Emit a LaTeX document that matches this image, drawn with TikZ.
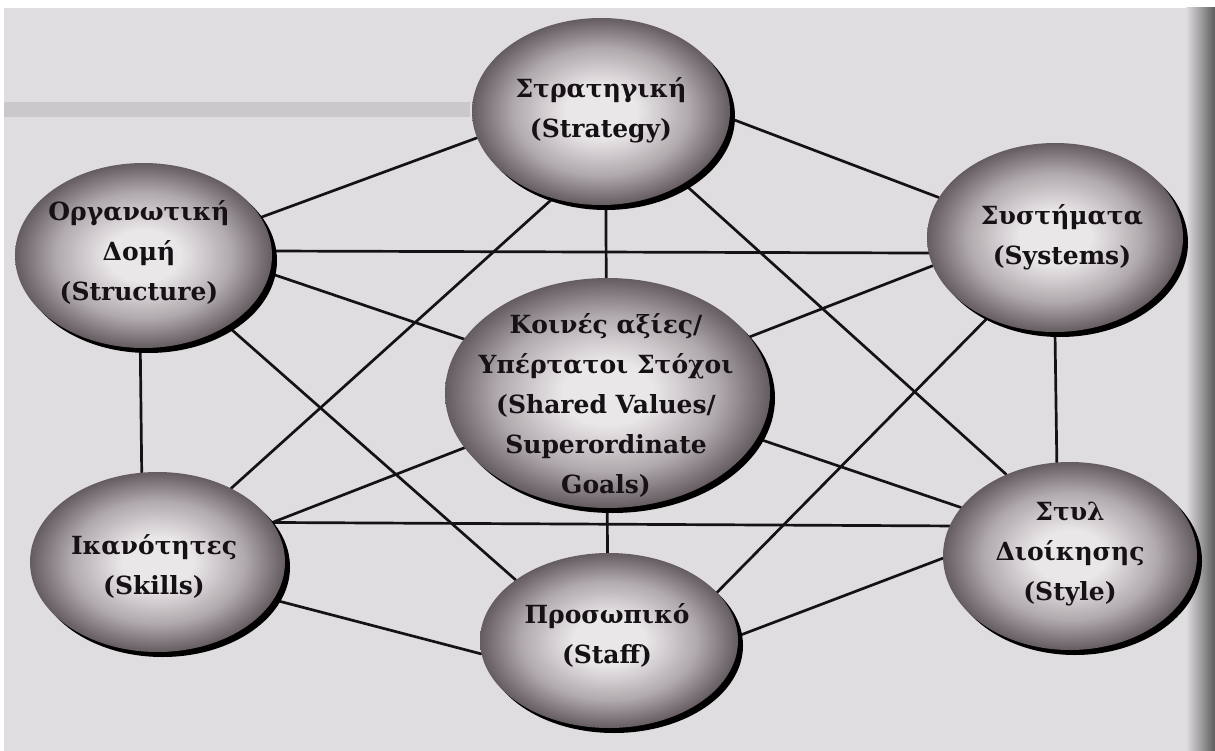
\documentclass[tikz,border=0pt]{standalone}
\usepackage{fontspec}
\setmainfont{DejaVu Serif}
\usetikzlibrary{shapes.geometric,shadows}

\definecolor{paper}{RGB}{224,221,224}
\definecolor{ink}{RGB}{22,17,20}
\definecolor{orbhi}{RGB}{234,231,233}
\definecolor{orbmid}{RGB}{176,169,173}
\definecolor{orblo}{RGB}{100,92,97}

% sphere-like fill: bright middle, darker rim
\pgfdeclareradialshading{orb}{\pgfpoint{0bp}{0bp}}{%
  color(0bp)=(orbhi); color(7bp)=(orbhi); color(17bp)=(orbmid);
  color(25bp)=(orblo); color(50bp)=(orblo)}

\pgfdeclarelayer{paperlayer}
\pgfdeclarelayer{wires}
\pgfsetlayers{paperlayer,wires,main}

\tikzset{
  orb/.style={ellipse, shading=orb, draw=none, inner sep=0pt,
    drop shadow={shadow xshift=5pt, shadow yshift=-5pt, fill=black, opacity=1}},
  txt/.style={font=\fontsize{25}{40}\selectfont\bfseries, align=center, text=ink, inner sep=0pt},
  link/.style={line width=2.7pt, draw=ink, line cap=round}
}

\begin{document}
\begin{tikzpicture}[x=1pt, y=-1pt]
\useasboundingbox (0,0) rectangle (1215,751);

\begin{pgfonlayer}{paperlayer}
  \fill[paper] (-5,-5) rectangle (1220,756);
  \fill[paper!82!black, opacity=0.5] (4,102) rectangle (470,117);
  \fill[white] (-5,-5) rectangle (1220,8);
  \fill[white] (-5,-5) rectangle (4,756);
  \shade[left color=paper, right color=black!72] (1186,8) rectangle (1220,756);
\end{pgfonlayer}

% the seven elements
\node[orb, minimum width=258pt, minimum height=187pt] (str)  at (601,111.5) {};
\node[orb, minimum width=256pt, minimum height=189pt] (sys)  at (1055,237.5) {};
\node[orb, minimum width=257pt, minimum height=185pt] (stru) at (143.5,255.5) {};
\node[orb, minimum width=325pt, minimum height=230pt] (cen)  at (607.5,393) {};
\node[orb, minimum width=255pt, minimum height=180pt] (skl)  at (157.5,562) {};
\node[orb, minimum width=254pt, minimum height=188pt] (sty)  at (1070,556) {};
\node[orb, minimum width=258pt, minimum height=175pt] (stf)  at (609,640.5) {};

% labels
\node[txt] (str-t)  at (601,110)   {Στρατηγική\\(Strategy)};
\node[txt] (sys-t)  at (1062,237)  {Συστήματα\\(Systems)};
\node[txt] (stru-t) at (139,252)   {Οργανωτική\\Δομή\\(Structure)};
\node[txt] (cen-t)  at (606,405)   {Κοινές αξίες/\\Υπέρτατοι Στόχοι\\(Shared Values/\\Superordinate\\Goals)};
\node[txt] (skl-t)  at (154,566)   {Ικανότητες\\(Skills)};
\node[txt] (sty-t)  at (1070,554)  {Στυλ\\Διοίκησης\\(Style)};
\node[txt] (stf-t)  at (607,635)   {Προσωπικό\\(Staff)};

% every pair of the outer six is linked
\begin{pgfonlayer}{wires}
  \draw[link] (stru.18.6)  -- (str.192.3);
  \draw[link] (str.357.3)  -- (sys.161.6);
  \draw[link] (stru.2.1)   -- (sys.187.2);
  \draw[link] (sys.270.6)  -- (sty.98.2);
  \draw[link] (sty.181.7)  -- (stf.2.2);
  \draw[link] (skl.342)    -- (stf.186.2);
  \draw[link] (stru.268.2) -- (skl.100.6);
  \draw[link] (str.319.3)  -- (sty.128.9);
  \draw[link] (sys.230.6)  -- (stf.24);
  \draw[link] (skl.19.2)   -- (sty.166.5);
  \draw[link] (stru.320.1) -- (stf.147.6);
  \draw[link] (str.241.1)  -- (skl.45.4);
  \draw[link] (stru.352.5) -- (sty.156.8);
  \draw[link] (sys.193.6)  -- (skl.19.9);
  \draw[link] (str.273)    -- (stf.91.9);
\end{pgfonlayer}
\end{tikzpicture}
\end{document}
